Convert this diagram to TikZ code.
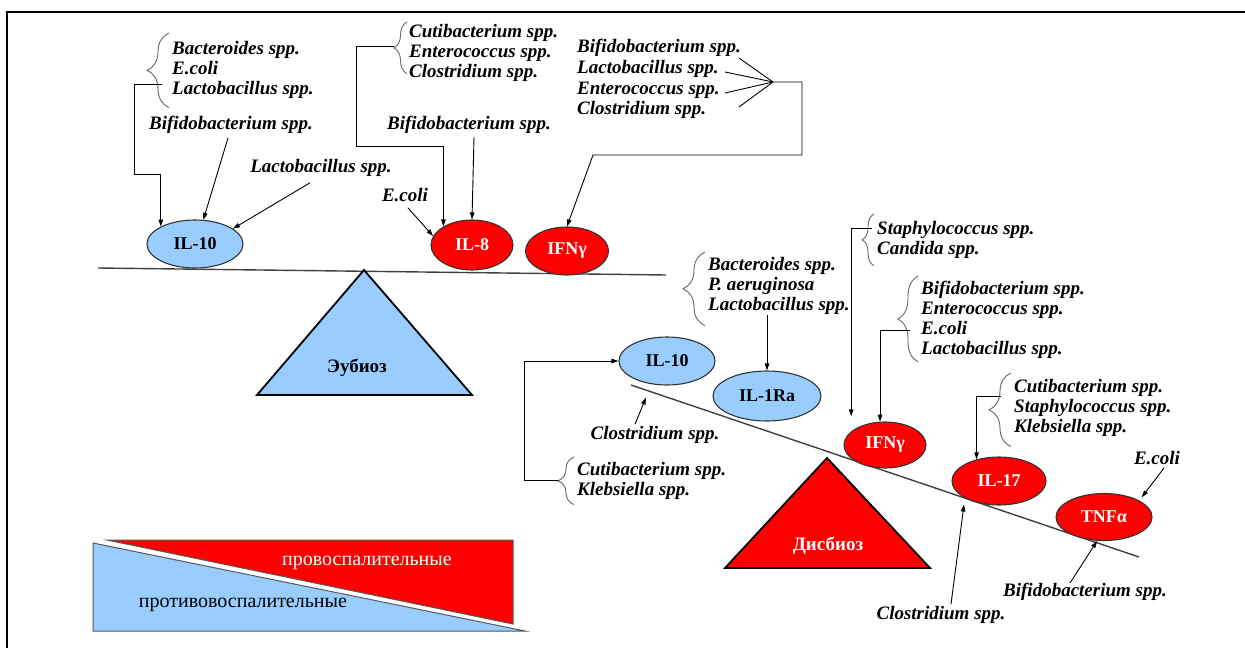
\documentclass[tikz,border=0pt]{standalone}
\usepackage{fontspec}
\setmainfont{Liberation Serif}
\usetikzlibrary{arrows.meta,shapes.geometric,decorations.pathreplacing}
\definecolor{lblue}{RGB}{153,204,255}
\definecolor{dred}{RGB}{255,0,0}

\begin{document}
\begin{tikzpicture}[x=1pt,y=-1pt,
  lab/.style={font=\fontsize{19}{20}\selectfont\bfseries\itshape,inner sep=0pt,align=left},
  cyt/.style={ellipse,draw=black!80,line width=1.1pt,inner sep=0pt,font=\fontsize{18}{20}\selectfont\bfseries},
  anti/.style={cyt,fill=lblue},
  pro/.style={cyt,fill=dred,text=white},
  arr/.style={-{Triangle[length=7pt,width=4.5pt]},line width=0.9pt},
  brc/.style={decorate,decoration={brace,amplitude=#1},draw=black!60,line width=0.9pt},
  beam/.style={draw=black!75,line width=1.4pt}]
\useasboundingbox (0,0) rectangle (1245,648);
\draw[line width=1.3pt] (7,648) -- (7,12) -- (1245,12);

% eubiosis
\draw[beam] (98,268) -- (666,275);
\draw[line width=1.8pt,fill=lblue] (364,270) -- (472,395) -- (257,395) -- cycle;
\node[font=\fontsize{19}{20}\selectfont\bfseries] at (357,368) {Эубиоз};
\node[anti,minimum width=96pt,minimum height=48pt] (il10t) at (195,244) {IL-10};
\node[pro,minimum width=82pt,minimum height=50pt] (il8) at (472,245) {IL-8};
\node[pro,minimum width=83pt,minimum height=48pt] (ifn1) at (567,251) {IFNγ};

\node[lab,anchor=north west] (t1) at (172,41) {Bacteroides spp.\\E.coli\\Lactobacillus spp.};
\draw[brc=22pt] ([shift={(-3,9)}]t1.south west) -- ([shift={(-3,-8)}]t1.north west);
\draw[arr] ([shift={(-10,-14)}]t1.south west) -- ++(-28,0) -- ++(0,90) -| (il10t.153);
\node[lab] (bf1) at (231,125) {Bifidobacterium spp.};
\draw[arr] ([shift={(-3,4)}]bf1.south) -- (il10t.71);
\node[lab] (lb1) at (321,168) {Lactobacillus spp.};
\draw[arr] ([shift={(-11,6)}]lb1.south) -- (il10t.22);

\node[lab,anchor=north west] (t2) at (409,24) {Cutibacterium spp.\\Enterococcus spp.\\Clostridium spp.};
\draw[brc=13pt] ([shift={(-2,-8)}]t2.south west) -- ([shift={(-2,-2)}]t2.north west);
\draw[arr] ([shift={(-15,-6)}]t2.west) -- ++(-38,0) -- ++(0,100) -| (il8.147);
\node[lab] (bf2) at (469,125) {Bifidobacterium spp.};
\draw[arr] ([shift={(5,3)}]bf2.south) -- (il8.north);
\node[lab] (ec1) at (405,195) {E.coli};
\draw[arr] ([shift={(3,6)}]ec1.south) -- (il8.167);

\node[lab,anchor=west] (f1) at (577,48) {Bifidobacterium spp.};
\node[lab,anchor=west] (f2) at (577,69) {Lactobacillus spp.};
\node[lab,anchor=west] (f3) at (577,90) {Enterococcus spp.};
\node[lab,anchor=west] (f4) at (577,110) {Clostridium spp.};
\coordinate (fan) at (773,82);
\foreach \dx/\dy in {-34/-24,-48/-10,-48/11,-34/25}
  \draw[line width=0.9pt] (fan) -- ++(\dx,\dy);
\draw[arr] (fan) -- ++(29,0) -- ++(0,73) -- ++(-209,0) -- (ifn1.north);

% dysbiosis
\draw[beam] (631,385) -- (1139,557);
\draw[line width=1.8pt,fill=dred] (827,458) -- (930,568) -- (725,568) -- cycle;
\node[font=\fontsize{19}{20}\selectfont\bfseries,text=white] at (828,546) {Дисбиоз};
\node[anti,minimum width=96pt,minimum height=48pt] (il10b) at (667,361) {IL-10};
\node[anti,minimum width=108pt,minimum height=50pt] (il1ra) at (767,396) {IL-1Ra};
\node[pro,minimum width=82pt,minimum height=46pt] (ifn2) at (885,445) {IFNγ};
\node[pro,minimum width=94pt,minimum height=48pt] (il17) at (999,481) {IL-17};
\node[pro,minimum width=96pt,minimum height=47pt] (tnf) at (1104,517) {TNFα};

\node[lab,anchor=north west] (t4) at (877,221) {Staphylococcus spp.\\Candida spp.};
\draw[brc=12pt] ([shift={(-3,7)}]t4.south west) -- ([shift={(-3,-7)}]t4.north west);
\draw[arr,shorten >=15pt] ([shift={(-5,7)}]t4.north west) -| (ifn2.158);

\node[lab,anchor=north west] (t5) at (708,257) {Bacteroides spp.\\P. aeruginosa\\Lactobacillus spp.};
\draw[brc=22pt] ([shift={(-3,11)}]t5.south west) -- ([shift={(-3,-5)}]t5.north west);
\draw[arr] (t5.south -| il1ra.north) -- (il1ra.north);

\node[lab,anchor=north west] (t6) at (921,281) {Bifidobacterium spp.\\Enterococcus spp.\\E.coli\\Lactobacillus spp.};
\draw[brc=20pt] ([shift={(-3,3)}]t6.south west) -- ([shift={(-3,-5)}]t6.north west);
\draw[arr] ([shift={(-11,11)}]t6.west) -| (ifn2.102);

\node[lab,anchor=north west] (t7) at (577,462) {Cutibacterium spp.\\Klebsiella spp.};
\draw[brc=16pt] ([shift={(-3,5)}]t7.south west) -- ([shift={(-3,-5)}]t7.north west);
\draw[arr] ([xshift=-19pt]t7.west) -- ++(-34,0) |- (il10b.west);
\node[lab] (cl1) at (655,435) {Clostridium spp.};
\draw[arr] ([shift={(-20,-2)}]cl1.north) -- ([shift={(-21,12)}]il10b.south);

\node[lab,anchor=north west] (t8) at (1014,379) {Cutibacterium spp.\\Staphylococcus spp.\\Klebsiella spp.};
\draw[brc=22pt] ([shift={(-3,10)}]t8.south west) -- ([shift={(-3,-6)}]t8.north west);
\draw[arr] ([shift={(-13,17)}]t8.north west) -| (il17.136);

\node[lab] (ec2) at (1157,458) {E.coli};
\draw[arr,shorten >=4pt] ([shift={(7,3)}]ec2.south) -- (tnf.25);
\node[lab] (cl2) at (941,615) {Clostridium spp.};
\draw[arr] ([shift={(10,-2)}]cl2.north) -- ([shift={(-35,-1)}]il17.south);
\node[lab] (bf3) at (1085,592) {Bifidobacterium spp.};
\draw[arr] ([shift={(-15,0)}]bf3.north) -- ([shift={(-7,0)}]tnf.south);

% legend
\draw[draw=black!65,line width=1pt,fill=lblue] (93,543) -- (525,631) -- (93,631) -- cycle;
\draw[draw=black!65,line width=1pt,fill=dred] (107,540) -- (513,540) -- (513,624) -- cycle;
\node[font=\fontsize{20}{22}\selectfont,text=white] at (367,563) {провоспалительные};
\node[font=\fontsize{20}{22}\selectfont] at (243,605) {противовоспалительные};
\end{tikzpicture}
\end{document}
